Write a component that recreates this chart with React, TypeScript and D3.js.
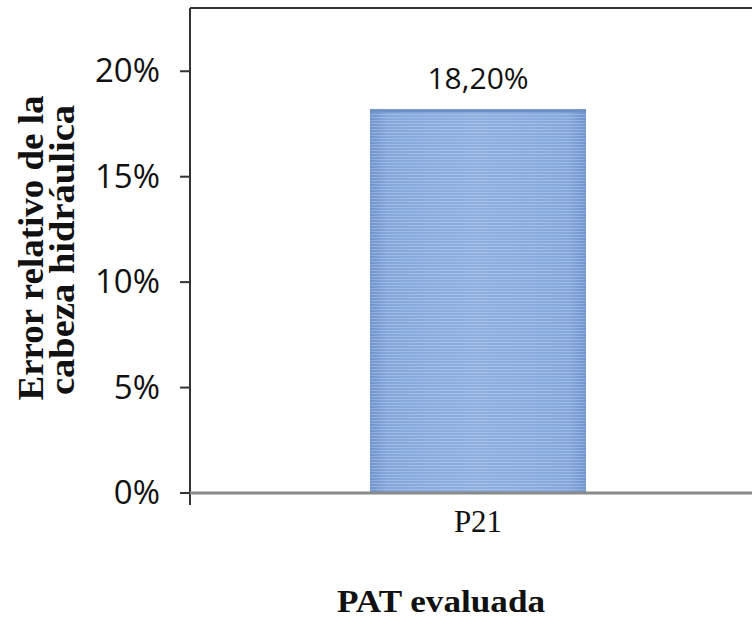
import React from "react";
import * as d3 from "d3";

const categories = ["P21"];
const values = [0.182];
const valueLabels = ["18,20%"];
const yTicks = [0, 0.05, 0.1, 0.15, 0.2];
const yTickLabels = ["0%", "5%", "10%", "15%", "20%"];
const yTitle = ["Error relativo de la", "cabeza hidráulica"];
const xTitle = "PAT evaluada";

const W = 752;
const H = 624;
const left = 190;
const right = 766;
const top = 8;
const bottom = 493;

export default function App() {
  const y = d3.scaleLinear().domain([0, 0.23]).range([bottom, top]);
  const x = d3
    .scaleBand<string>()
    .domain(categories)
    .range([left, right])
    .paddingInner(0)
    .paddingOuter(0.833);
  const sans = "'Open Sans', sans-serif";
  const serif = "'Liberation Serif', 'Times New Roman', serif";
  return (
    <svg
      width={W}
      height={H}
      style={{ position: "absolute", left: 0, top: 0, background: "#fff" }}
    >
      <defs>
        <linearGradient id="barGrad" x1="0" x2="1" y1="0" y2="0">
          <stop offset="0" stopColor="#6f93cc" />
          <stop offset="0.08" stopColor="#85a8dc" />
          <stop offset="0.5" stopColor="#8eafe0" />
          <stop offset="0.92" stopColor="#85a8dc" />
          <stop offset="1" stopColor="#6f93cc" />
        </linearGradient>
        <pattern id="stripes" width="8" height="3" patternUnits="userSpaceOnUse">
          <rect width="8" height="1" y="0" fill="#ffffff" opacity="0.22" />
        </pattern>
      </defs>
      <rect width={W} height={H} fill="#fff" />
      {categories.map((c, i) => (
        <g key={c}>
          <rect
            x={x(c)!}
            y={y(values[i])}
            width={x.bandwidth()}
            height={bottom - y(values[i])}
            fill="url(#barGrad)"
          />
          <rect
            x={x(c)!}
            y={y(values[i])}
            width={x.bandwidth()}
            height={bottom - y(values[i])}
            fill="url(#stripes)"
          />
          <rect
            x={x(c)!}
            y={y(values[i])}
            width={x.bandwidth()}
            height={3}
            fill="#6d90c6"
          />
          <text
            x={x(c)! + x.bandwidth() / 2}
            y={y(values[i]) - 20}
            textAnchor="middle"
            fontFamily={sans}
            fontSize={30}
            fill="#111"
          >
            {valueLabels[i]}
          </text>
          <text
            x={x(c)! + x.bandwidth() / 2}
            y={bottom + 39}
            textAnchor="middle"
            fontFamily={serif}
            fontSize={31}
            fill="#111"
          >
            {c}
          </text>
        </g>
      ))}
      <line x1={left} x2={W} y1={top} y2={top} stroke="#333" strokeWidth={2} />
      <line x1={left} x2={left} y1={top} y2={bottom + 12} stroke="#333" strokeWidth={2} />
      {yTicks.map((t, i) => (
        <g key={t}>
          <line x1={left - 10} x2={left} y1={y(t)} y2={y(t)} stroke="#333" strokeWidth={2} />
          <text
            x={160}
            y={y(t) + 11}
            textAnchor="end"
            fontFamily={sans}
            fontSize={33}
            fill="#111"
          >
            {yTickLabels[i]}
          </text>
        </g>
      ))}
      <line x1={left} x2={W} y1={bottom} y2={bottom} stroke="#8a8a8a" strokeWidth={3} />
      <text
        transform={`translate(43,248) rotate(-90)`}
        textAnchor="middle"
        fontFamily={serif}
        fontWeight="bold"
        fontSize={36}
        textLength={305}
        lengthAdjust="spacingAndGlyphs"
        fill="#111"
      >
        {yTitle[0]}
      </text>
      <text
        transform={`translate(74,250) rotate(-90)`}
        textAnchor="middle"
        fontFamily={serif}
        fontWeight="bold"
        fontSize={36}
        textLength={290}
        lengthAdjust="spacingAndGlyphs"
        fill="#111"
      >
        {yTitle[1]}
      </text>
      <text
        x={441}
        y={612}
        textAnchor="middle"
        fontFamily={serif}
        fontWeight="bold"
        fontSize={32}
        textLength={208}
        lengthAdjust="spacingAndGlyphs"
        fill="#111"
      >
        {xTitle}
      </text>
    </svg>
  );
}
